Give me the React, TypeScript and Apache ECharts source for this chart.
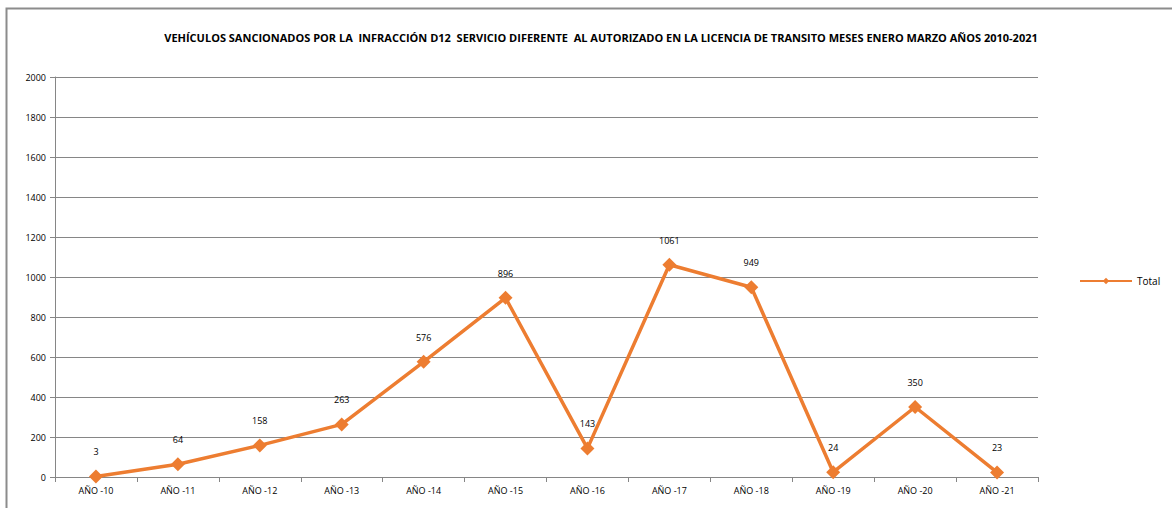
import React, { useEffect, useRef } from "react";
import * as echarts from "echarts";

const titleText =
  "VEHÍCULOS SANCIONADOS POR LA  INFRACCIÓN D12  SERVICIO DIFERENTE  AL AUTORIZADO EN LA LICENCIA DE TRANSITO MESES ENERO MARZO AÑOS 2010-2021";
const categories = [
  "AÑO -10", "AÑO -11", "AÑO -12", "AÑO -13", "AÑO -14", "AÑO -15",
  "AÑO -16", "AÑO -17", "AÑO -18", "AÑO -19", "AÑO -20", "AÑO -21",
];
const totals = [3, 64, 158, 263, 576, 896, 143, 1061, 949, 24, 350, 23];
const seriesName = "Total";

const FONT = "'Open Sans', 'Noto Sans', sans-serif";
const ORANGE = "#ED7D31";

export default function App() {
  const ref = useRef<HTMLDivElement>(null);
  useEffect(() => {
    if (!ref.current) return;
    const chart = echarts.init(ref.current, undefined, { renderer: "svg" });
    chart.setOption({
      animation: false,
      backgroundColor: "#ffffff",
      textStyle: { fontFamily: FONT },
      title: {
        text: titleText,
        left: 596,
        top: 27,
        textAlign: "center",
        textStyle: { fontSize: 11, fontWeight: "bold", color: "#000", fontFamily: FONT },
      },
      graphic: [
        {
          type: "rect",
          shape: { x: 6.5, y: 8.5, width: 1300, height: 600 },
          style: { fill: "none", stroke: "#8c8c8c", lineWidth: 2 },
          silent: true,
        },
      ],
      legend: {
        data: [seriesName],
        left: 1074,
        top: 271,
        orient: "vertical",
        itemWidth: 52,
        itemHeight: 8,
        itemGap: 5,
        textStyle: { fontSize: 10, color: "#000", fontFamily: FONT },
      },
      grid: { left: 55, right: 134, top: 77, bottom: 31, containLabel: false },
      xAxis: {
        type: "category",
        data: categories,
        boundaryGap: true,
        axisLine: { show: true, lineStyle: { color: "#868686", width: 1 } },
        axisTick: { show: true, alignWithLabel: false, length: 5, lineStyle: { color: "#868686" } },
        axisLabel: { fontSize: 9, color: "#000", margin: 9, fontFamily: FONT, interval: 0 },
        splitLine: { show: false },
      },
      yAxis: {
        type: "value",
        min: 0,
        max: 2000,
        interval: 200,
        axisLine: { show: true, lineStyle: { color: "#868686", width: 1 } },
        axisTick: { show: true, length: 5, lineStyle: { color: "#868686" } },
        axisLabel: {
          fontSize: 9,
          color: "#000",
          margin: 9,
          fontFamily: FONT,
          formatter: (v: number) => String(v),
        },
        splitLine: { show: true, lineStyle: { color: "#868686", width: 1 } },
      },
      series: [
        {
          name: seriesName,
          type: "line",
          data: totals,
          symbol: "diamond",
          symbolSize: 14,
          itemStyle: { color: ORANGE },
          lineStyle: { color: ORANGE, width: 3.5 },
          label: {
            show: true,
            position: "top",
            distance: 13,
            fontSize: 9,
            color: "#000",
            fontFamily: FONT,
          },
        },
      ],
    });
    return () => chart.dispose();
  }, []);
  return (
    <div
      ref={ref}
      style={{ position: "absolute", left: 0, top: 0, width: 1172, height: 508 }}
    />
  );
}
